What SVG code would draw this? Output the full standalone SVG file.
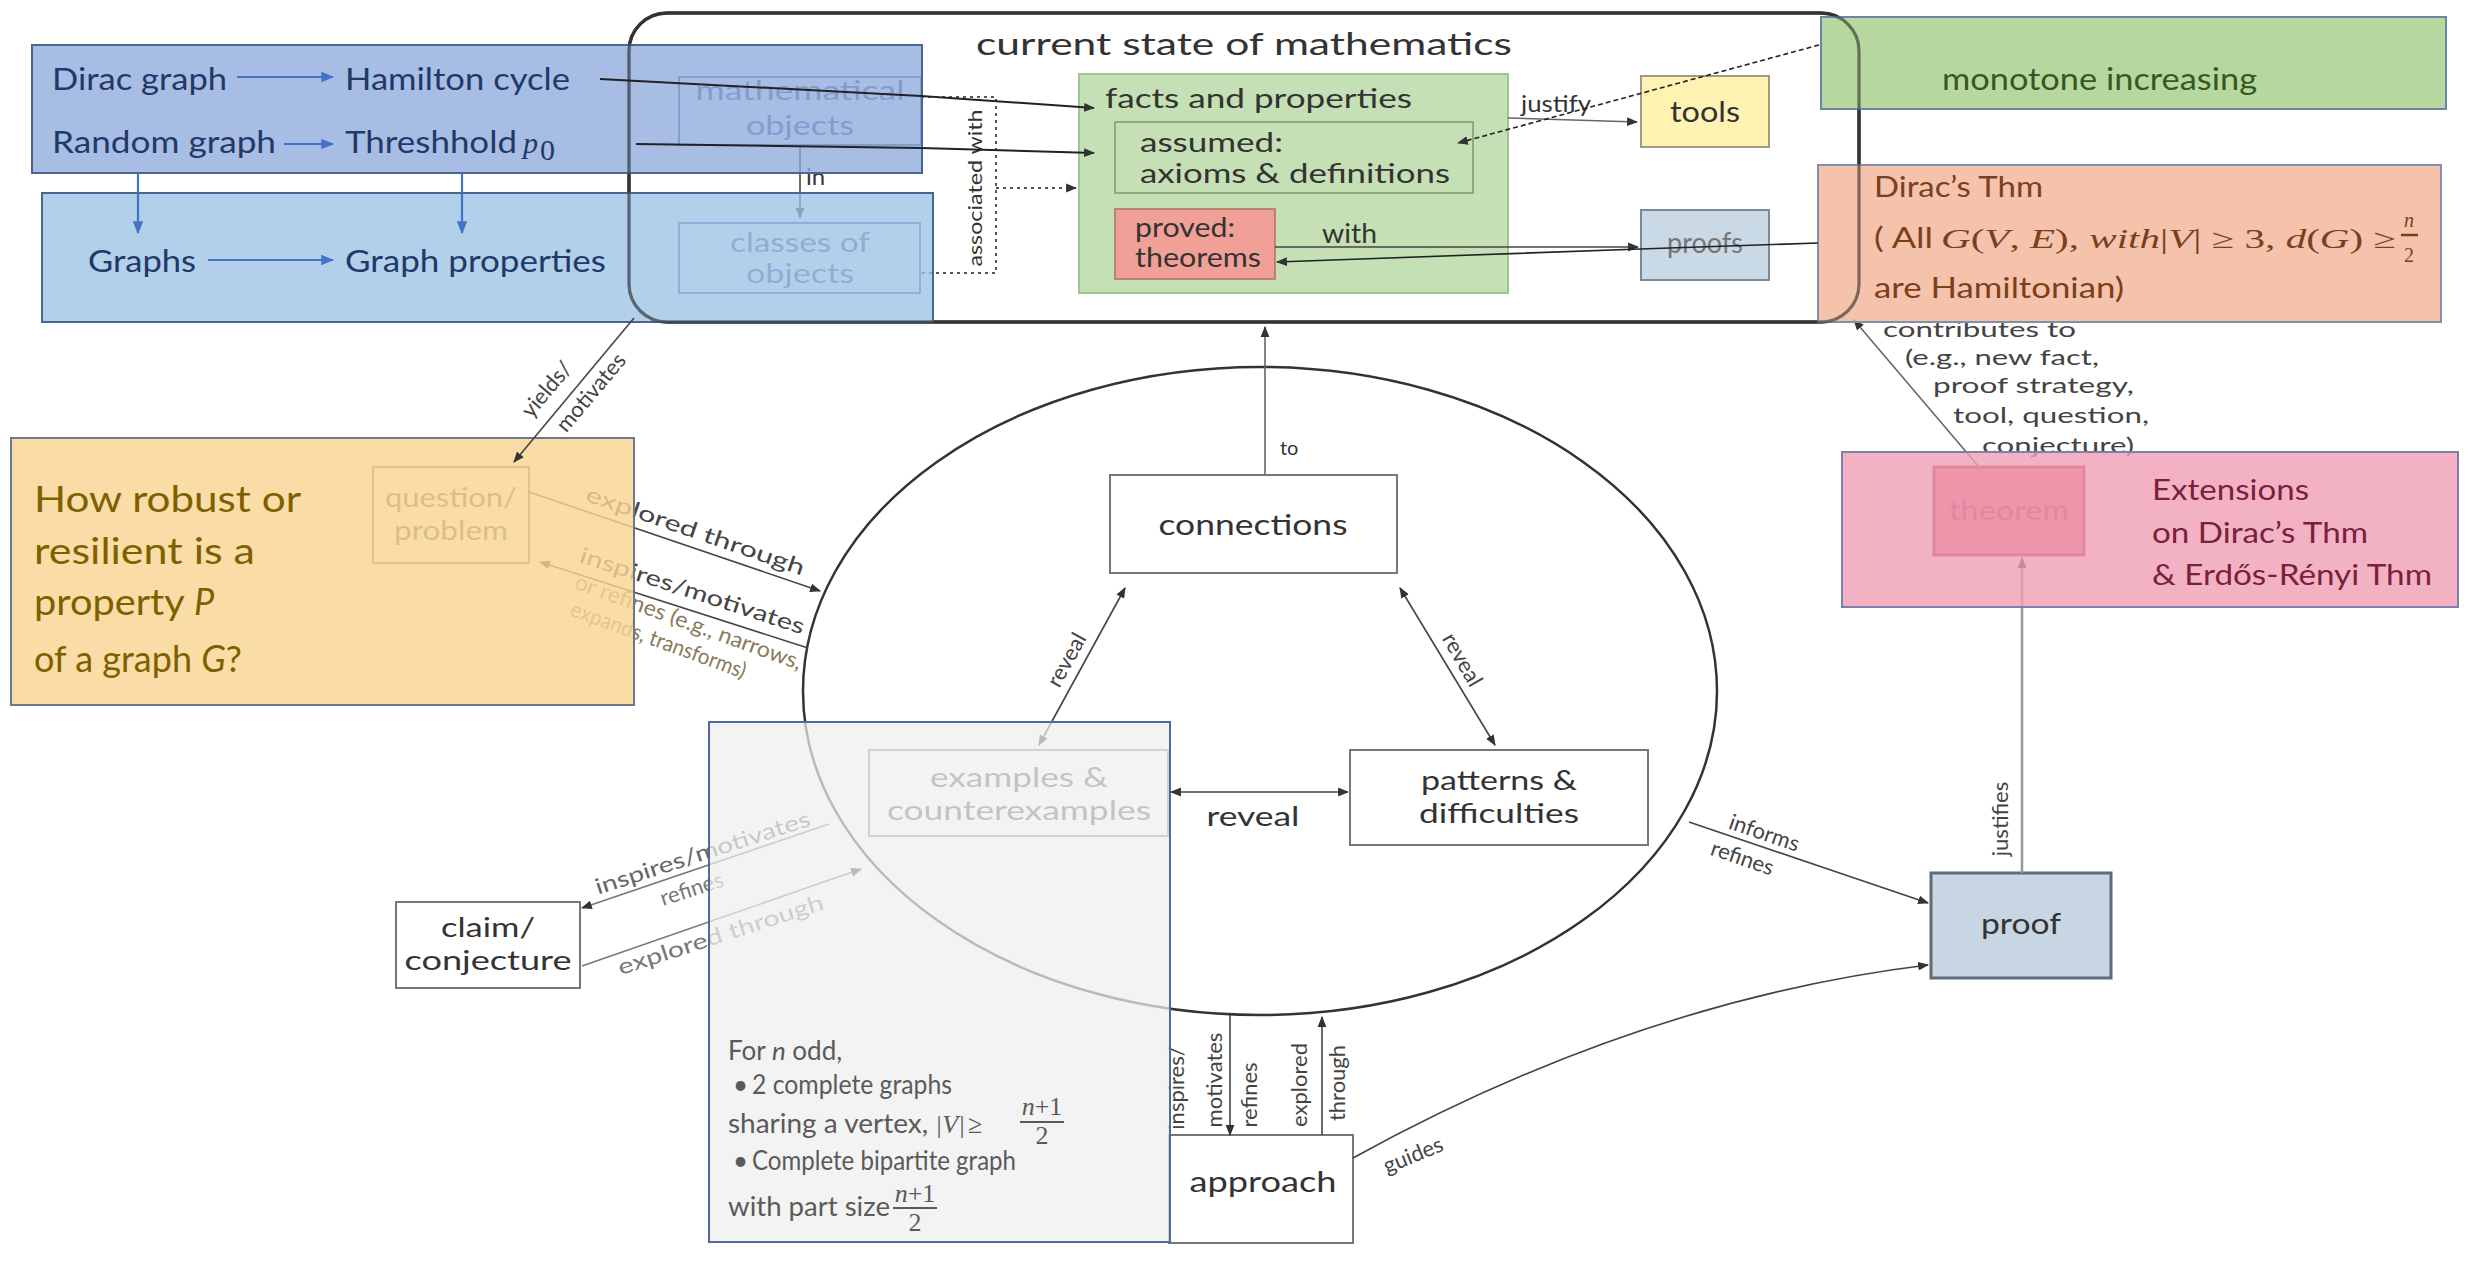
<svg xmlns="http://www.w3.org/2000/svg" width="2466" height="1275" viewBox="0 0 2466 1275">
<defs>
<style>
text{font-family:Lato,"Open Sans","Liberation Sans",sans-serif;fill:#333}
.m{font-family:"Liberation Serif","DejaVu Serif",serif;font-style:italic}
.u{font-family:"Liberation Serif","DejaVu Serif",serif;font-style:normal}
.box{fill:#fff;stroke:#777;stroke-width:2}
.c{fill:none;stroke:#444;stroke-width:1.6}
.cg{fill:none;stroke:#666;stroke-width:1.6}
.cb{fill:none;stroke:#4472c4;stroke-width:2.2}
.lab{font-size:22px;fill:#444}
.blue{font-size:30px;fill:#1f3a68}
.panel{font-size:26px;fill:#5a5a5a}
</style>
<marker id="ah" viewBox="0 0 10 10" refX="9" refY="5" markerWidth="11" markerHeight="11" markerUnits="userSpaceOnUse" orient="auto-start-reverse"><path d="M0,1 L10,5 L0,9 z" fill="#333"/></marker>
<marker id="ahb" viewBox="0 0 10 10" refX="9" refY="5" markerWidth="13" markerHeight="13" markerUnits="userSpaceOnUse" orient="auto-start-reverse"><path d="M0,1 L10,5 L0,9 z" fill="#4472c4"/></marker>
</defs>
<rect width="2466" height="1275" fill="#fff"/>

<g id="state">
<rect x="629" y="13" width="1230" height="309" rx="38" fill="#fff" stroke="#333" stroke-width="3.5"/>
<text x="976" y="55" font-size="31" textLength="536" lengthAdjust="spacingAndGlyphs">current  state of mathematics</text>
</g>
<g id="facts">
<rect x="1079" y="74" width="429" height="219" fill="#c5e0b4" stroke="#9fc48d" stroke-width="2"/>
<text x="1105" y="108" font-size="26" textLength="307" lengthAdjust="spacingAndGlyphs">facts and properties</text>
</g>
<g id="assumed">
<rect x="1115" y="122" width="358" height="71" fill="#c5e0b4" stroke="#7a9a6a" stroke-width="1.5"/>
<text x="1140" y="152" font-size="26" textLength="143" lengthAdjust="spacingAndGlyphs">assumed:</text>
<text x="1140" y="183" font-size="26" textLength="310" lengthAdjust="spacingAndGlyphs">axioms &amp; definitions</text>
</g>
<g id="proved">
<rect x="1115" y="209" width="160" height="70" fill="#f0a096" stroke="#b07060" stroke-width="1.5"/>
<text x="1135" y="237" font-size="26" textLength="100" lengthAdjust="spacingAndGlyphs">proved:</text>
<text x="1135" y="267" font-size="26" textLength="126" lengthAdjust="spacingAndGlyphs">theorems</text>
</g>
<g id="tools">
<rect x="1641" y="76" width="128" height="71" fill="#fff2b3" stroke="#a09a80" stroke-width="2"/>
<text x="1705" y="122" font-size="28" text-anchor="middle" textLength="70" lengthAdjust="spacingAndGlyphs">tools</text>
</g>
<g id="proofs">
<rect x="1641" y="210" width="128" height="70" fill="#c9d9e6" stroke="#7a8a9a" stroke-width="2"/>
<text x="1705" y="253" font-size="28" text-anchor="middle" textLength="76" lengthAdjust="spacingAndGlyphs" style="fill:#777">proofs</text>
</g>
<g id="math-objects">
<rect x="679" y="77" width="242" height="68" fill="none" stroke="#5572a8" stroke-width="2"/>
<text x="800" y="100" font-size="26" text-anchor="middle" textLength="209" lengthAdjust="spacingAndGlyphs" style="fill:#4e6a98">mathematical</text>
<text x="800" y="135" font-size="26" text-anchor="middle" textLength="108" lengthAdjust="spacingAndGlyphs" style="fill:#4e6a98">objects</text>
</g>
<g id="classes">
<rect x="679" y="223" width="241" height="70" fill="none" stroke="#5572a8" stroke-width="2"/>
<text x="800" y="252" font-size="26" text-anchor="middle" textLength="140" lengthAdjust="spacingAndGlyphs" style="fill:#4e6a98">classes of</text>
<text x="800" y="283" font-size="26" text-anchor="middle" textLength="108" lengthAdjust="spacingAndGlyphs" style="fill:#4e6a98">objects</text>
</g>

<g id="cycle">
<ellipse cx="1260" cy="691" rx="457" ry="324" fill="none" stroke="#333" stroke-width="2.5"/>
</g>
<g id="connections">
<rect class="box" x="1110" y="475" width="287" height="98"/>
<text x="1253" y="535" font-size="28" text-anchor="middle" textLength="189" lengthAdjust="spacingAndGlyphs">connections</text>
</g>
<g id="examples">
<rect x="869" y="750" width="299" height="86" fill="#fff" stroke="#888" stroke-width="2"/>
<text x="1019" y="787" font-size="26" text-anchor="middle" textLength="178" lengthAdjust="spacingAndGlyphs" style="fill:#555">examples &amp;</text>
<text x="1019" y="820" font-size="26" text-anchor="middle" textLength="264" lengthAdjust="spacingAndGlyphs" style="fill:#555">counterexamples</text>
</g>
<g id="patterns">
<rect class="box" x="1350" y="750" width="298" height="95"/>
<text x="1499" y="790" font-size="26" text-anchor="middle" textLength="156" lengthAdjust="spacingAndGlyphs">patterns &amp;</text>
<text x="1499" y="823" font-size="26" text-anchor="middle" textLength="160" lengthAdjust="spacingAndGlyphs">difficulties</text>
</g>
<g id="question">
<rect x="373" y="467" width="156" height="96" fill="#fff" stroke="#777" stroke-width="2"/>
<text x="451" y="507" font-size="26" text-anchor="middle" textLength="132" lengthAdjust="spacingAndGlyphs" style="fill:#555">question/</text>
<text x="451" y="540" font-size="26" text-anchor="middle" textLength="114" lengthAdjust="spacingAndGlyphs" style="fill:#555">problem</text>
</g>
<g id="claim">
<rect class="box" x="396" y="902" width="184" height="86"/>
<text x="488" y="937" font-size="26" text-anchor="middle" textLength="94" lengthAdjust="spacingAndGlyphs">claim/</text>
<text x="488" y="970" font-size="26" text-anchor="middle" textLength="167" lengthAdjust="spacingAndGlyphs">conjecture</text>
</g>
<g id="approach">
<rect class="box" x="1169" y="1135" width="184" height="108"/>
<text x="1263" y="1192" font-size="28" text-anchor="middle" textLength="147" lengthAdjust="spacingAndGlyphs">approach</text>
</g>
<g id="proof">
<rect x="1931" y="873" width="180" height="105" fill="#c8d5e3" stroke="#5f6b78" stroke-width="3"/>
<text x="2021" y="934" font-size="28" text-anchor="middle" textLength="80" lengthAdjust="spacingAndGlyphs">proof</text>
</g>
<g id="theorem">
<rect x="1934" y="467" width="150" height="88" fill="#e66e87" stroke="#9e2a48" stroke-width="3"/>
<text x="2009" y="520" font-size="26" text-anchor="middle" textLength="120" lengthAdjust="spacingAndGlyphs" style="fill:#8a3a50">theorem</text>
</g>

<g id="connectors">
<path class="c" d="M800,145 V218" marker-end="url(#ah)"/>
<text x="806" y="185" font-size="24" style="fill:#334">in</text>
<path fill="none" stroke="#555" stroke-width="2" stroke-dasharray="3,4" d="M921,97 H996 V273 H921"/>
<path fill="none" stroke="#555" stroke-width="2" stroke-dasharray="3,4" d="M996,188 H1076" marker-end="url(#ah)"/>
<text transform="translate(982,188) rotate(-90)" text-anchor="middle" font-size="20" textLength="157" lengthAdjust="spacingAndGlyphs">associated with</text>
<path class="cg" d="M1508,118 L1637,122" marker-end="url(#ah)"/>
<text x="1521" y="112" font-size="24" textLength="70" lengthAdjust="spacingAndGlyphs">justify</text>
<path class="c" d="M1275,247 H1638" marker-end="url(#ah)"/>
<text x="1322" y="243" font-size="26" textLength="55" lengthAdjust="spacingAndGlyphs">with</text>
<path class="cg" d="M1265,475 V327" marker-end="url(#ah)"/>
<text x="1280" y="455" font-size="20">to</text>
<path class="c" d="M1125,588 L1039,745" marker-start="url(#ah)" marker-end="url(#ah)"/>
<text transform="translate(1067,660) rotate(-61)" text-anchor="middle" y="7" font-size="24" class="lab">reveal</text>
<path class="c" d="M1400,588 L1495,745" marker-start="url(#ah)" marker-end="url(#ah)"/>
<text transform="translate(1462,660) rotate(60)" text-anchor="middle" y="7" font-size="24" class="lab">reveal</text>
<path class="c" d="M1171,792 H1348" marker-start="url(#ah)" marker-end="url(#ah)"/>
<text x="1253" y="826" font-size="26" text-anchor="middle" textLength="93" lengthAdjust="spacingAndGlyphs">reveal</text>
<path class="c" d="M529,492 L820,591" marker-end="url(#ah)"/>
<text class="lab" transform="translate(693,538) rotate(19)" text-anchor="middle" textLength="230" lengthAdjust="spacingAndGlyphs">explored through</text>
<path class="c" d="M808,648 L540,562" marker-end="url(#ah)"/>
<text class="lab" transform="translate(690,598) rotate(18)" text-anchor="middle" textLength="235" lengthAdjust="spacingAndGlyphs">inspires/motivates</text>
<text class="lab" transform="translate(686,629) rotate(20)" text-anchor="middle" textLength="240" lengthAdjust="spacingAndGlyphs" style="fill:#8a7a5a">or refines (e.g., narrows,</text>
<text class="lab" transform="translate(656,647) rotate(20)" text-anchor="middle" textLength="185" lengthAdjust="spacingAndGlyphs" style="fill:#8a7a5a">expands, transforms)</text>
<path class="c" d="M829,824 L582,908" marker-end="url(#ah)" style="stroke:#777"/>
<text class="lab" transform="translate(705,860) rotate(-18)" text-anchor="middle" textLength="225" lengthAdjust="spacingAndGlyphs" style="fill:#666">inspires/motivates</text>
<text class="lab" transform="translate(694,896) rotate(-18)" text-anchor="middle" style="fill:#777">refines</text>
<path class="c" d="M582,966 L861,869" marker-end="url(#ah)" style="stroke:#777"/>
<text class="lab" transform="translate(723,942) rotate(-18)" text-anchor="middle" textLength="215" lengthAdjust="spacingAndGlyphs" style="fill:#777">explored through</text>
<path class="c" d="M1230,1015 V1135" marker-end="url(#ah)"/>
<path class="c" d="M1322,1135 V1017" marker-end="url(#ah)"/>
<text class="lab" font-size="20" transform="translate(1184,1088) rotate(-90)" text-anchor="middle">inspires/</text>
<text class="lab" font-size="20" transform="translate(1222,1080) rotate(-90)" text-anchor="middle">motivates</text>
<text class="lab" font-size="20" transform="translate(1257,1095) rotate(-90)" text-anchor="middle">refines</text>
<text class="lab" font-size="20" transform="translate(1307,1085) rotate(-90)" text-anchor="middle">explored</text>
<text class="lab" font-size="20" transform="translate(1345,1083) rotate(-90)" text-anchor="middle">through</text>
<path class="c" d="M1689,822 L1928,903" marker-end="url(#ah)"/>
<text class="lab" transform="translate(1762,840) rotate(19)" text-anchor="middle">informs</text>
<text class="lab" transform="translate(1740,865) rotate(19)" text-anchor="middle">refines</text>
<path class="c" d="M1353,1158 Q1640,1000 1928,965" marker-end="url(#ah)"/>
<text class="lab" font-size="20" transform="translate(1416,1162) rotate(-22)" text-anchor="middle">guides</text>
<path fill="none" stroke="#999" stroke-width="2.5" d="M2022,873 V558" marker-end="url(#ah)"/>
<text class="lab" font-size="20" transform="translate(2008,819) rotate(-90)" text-anchor="middle">justifies</text>
<path class="cg" d="M1979,467 L1854,320" marker-end="url(#ah)"/>
<text class="lab" x="1883" y="337" textLength="193" lengthAdjust="spacingAndGlyphs">contributes to</text>
<text class="lab" x="1905" y="365" textLength="194" lengthAdjust="spacingAndGlyphs">(e.g., new fact,</text>
<text class="lab" x="1933" y="393" textLength="201" lengthAdjust="spacingAndGlyphs">proof strategy,</text>
<text class="lab" x="1953" y="423" textLength="196" lengthAdjust="spacingAndGlyphs">tool, question,</text>
<text class="lab" x="1982" y="453" textLength="152" lengthAdjust="spacingAndGlyphs">conjecture)</text>
</g>

<g id="graph-examples">
<rect x="32" y="45" width="890" height="128" fill="#8faadc" fill-opacity="0.78" stroke="#4a6590" stroke-width="2"/>
<text class="blue" x="52" y="90" textLength="175" lengthAdjust="spacingAndGlyphs">Dirac graph</text>
<text class="blue" x="345" y="90" textLength="225" lengthAdjust="spacingAndGlyphs">Hamilton cycle</text>
<text class="blue" x="52" y="153" textLength="224" lengthAdjust="spacingAndGlyphs">Random graph</text>
<text class="blue" x="345" y="153" textLength="172" lengthAdjust="spacingAndGlyphs">Threshhold</text>
<text class="blue m" x="523" y="153" font-size="32">p</text>
<text class="blue u" x="540" y="160" font-size="20">0</text>
</g>
<g id="graph-concepts">
<rect x="42" y="193" width="891" height="129" fill="#9dc3e6" fill-opacity="0.78" stroke="#4a6590" stroke-width="2"/>
<text class="blue" x="88" y="272" textLength="108" lengthAdjust="spacingAndGlyphs">Graphs</text>
<text class="blue" x="345" y="272" textLength="261" lengthAdjust="spacingAndGlyphs">Graph properties</text>
</g>
<g id="research-question">
<rect x="11" y="438" width="623" height="267" fill="#f9d593" fill-opacity="0.82" stroke="#6a7a8a" stroke-width="2"/>
<text x="34" y="512" font-size="36" textLength="267" lengthAdjust="spacingAndGlyphs" style="fill:#7f6000">How robust or</text>
<text x="34" y="564" font-size="36" textLength="221" lengthAdjust="spacingAndGlyphs" style="fill:#7f6000">resilient is a</text>
<text x="34" y="615" font-size="36" style="fill:#7f6000"><tspan textLength="160" lengthAdjust="spacingAndGlyphs">property </tspan><tspan font-style="italic">P</tspan></text>
<text x="34" y="672" font-size="36" style="fill:#7f6000">of a graph <tspan font-style="italic">G</tspan>?</text>
</g>
<g id="counterexample-panel">
<rect x="709" y="722" width="461" height="520" fill="#eeeeee" fill-opacity="0.72" stroke="#4e6c96" stroke-width="2"/>
<text class="panel" x="728" y="1060">For <tspan font-style="italic">n</tspan> odd,</text>
<text class="panel" x="733" y="1094">•</text>
<text class="panel" x="752" y="1094" textLength="200" lengthAdjust="spacingAndGlyphs">2 complete graphs</text>
<text class="panel" x="728" y="1133" textLength="200" lengthAdjust="spacingAndGlyphs">sharing a vertex,</text>
<text class="panel m" x="935" y="1133" font-size="26">|V|</text>
<text class="panel u" x="968" y="1133" font-size="26">≥</text>
<text class="panel m" x="1042" y="1115" font-size="19" text-anchor="middle">n<tspan class="u">+1</tspan></text>
<path d="M1020,1122 H1064" stroke="#5a5a5a" stroke-width="2"/>
<text class="panel u" x="1042" y="1144" font-size="19" text-anchor="middle">2</text>
<text class="panel" x="733" y="1170">•</text>
<text class="panel" x="752" y="1170" textLength="264" lengthAdjust="spacingAndGlyphs">Complete bipartite graph</text>
<text class="panel" x="728" y="1216" textLength="162" lengthAdjust="spacingAndGlyphs">with part size</text>
<text class="panel m" x="915" y="1202" font-size="19" text-anchor="middle">n<tspan class="u">+1</tspan></text>
<path d="M893,1208 H937" stroke="#5a5a5a" stroke-width="2"/>
<text class="panel u" x="915" y="1231" font-size="19" text-anchor="middle">2</text>
</g>
<g id="monotone">
<rect x="1821" y="17" width="625" height="92" fill="#a9d18e" fill-opacity="0.85" stroke="#6a86a8" stroke-width="2"/>
<text x="1942" y="90" font-size="30" textLength="315" lengthAdjust="spacingAndGlyphs" style="fill:#385723">monotone increasing</text>
</g>
<g id="dirac-thm">
<rect x="1818" y="165" width="623" height="157" fill="#f3b99c" fill-opacity="0.85" stroke="#7f90ad" stroke-width="2"/>
<text x="1874" y="197" font-size="28" textLength="169" lengthAdjust="spacingAndGlyphs" style="fill:#7b3f1e">Dirac’s Thm</text>
<text x="1874" y="248" font-size="28" textLength="59" lengthAdjust="spacingAndGlyphs" style="fill:#7b3f1e">( All</text>
<text class="m" x="1941" y="248" font-size="27" textLength="455" lengthAdjust="spacingAndGlyphs" style="fill:#7b3f1e">G<tspan class="u">(</tspan>V<tspan class="u">, </tspan>E<tspan class="u">), </tspan>with<tspan class="u">|</tspan>V<tspan class="u">| ≥ 3, </tspan>d<tspan class="u">(</tspan>G<tspan class="u">) ≥</tspan></text>
<text class="m" x="2409" y="227" font-size="20" text-anchor="middle" style="fill:#7b3f1e">n</text>
<path d="M2401,235 H2418" stroke="#7b3f1e" stroke-width="2.5"/>
<text class="u" x="2409" y="262" font-size="20" text-anchor="middle" style="fill:#7b3f1e">2</text>
<text x="1874" y="298" font-size="28" textLength="250" lengthAdjust="spacingAndGlyphs" style="fill:#7b3f1e">are Hamiltonian)</text>
</g>
<g id="extensions">
<rect x="1842" y="452" width="616" height="155" fill="#f09fb4" fill-opacity="0.8" stroke="#7f7fae" stroke-width="2"/>
<text x="2152" y="500" font-size="29" textLength="157" lengthAdjust="spacingAndGlyphs" style="fill:#7a1f3d">Extensions</text>
<text x="2152" y="543" font-size="29" textLength="216" lengthAdjust="spacingAndGlyphs" style="fill:#7a1f3d">on Dirac’s Thm</text>
<text x="2152" y="585" font-size="29" textLength="280" lengthAdjust="spacingAndGlyphs" style="fill:#7a1f3d">&amp; Erdős-Rényi Thm</text>
</g>

<g id="connectors-over">
<rect x="629" y="13" width="1230" height="309" rx="38" fill="none" stroke="#333" stroke-width="3" stroke-opacity="0.55"/>
<path class="cb" d="M237,77 H333" marker-end="url(#ahb)"/>
<path class="cb" d="M284,144 H333" marker-end="url(#ahb)"/>
<path class="cb" d="M208,260 H333" marker-end="url(#ahb)"/>
<path class="cb" d="M138,173 V233" marker-end="url(#ahb)"/>
<path class="cb" d="M462,173 V233" marker-end="url(#ahb)"/>
<path class="c" d="M600,79 L921,96 L1094,108" marker-end="url(#ah)" style="stroke:#222;stroke-width:2"/>
<path class="c" d="M636,144 L921,148 L1094,153" marker-end="url(#ah)" style="stroke:#222;stroke-width:2"/>
<path class="c" d="M1819,45 L1458,143" marker-end="url(#ah)" stroke-dasharray="5,3" style="stroke:#222"/>
<path class="c" d="M1818,243 L1640,249 L1277,262" marker-end="url(#ah)" style="stroke:#222"/>
<path class="c" d="M634,318 L514,462" marker-end="url(#ah)"/>
<g transform="translate(574,390) rotate(-50)">
<text class="lab" font-size="20" x="-17" y="-14" text-anchor="middle">yields/</text>
<text class="lab" font-size="20" x="9" y="22" text-anchor="middle">motivates</text>
</g>
</g>
</svg>
